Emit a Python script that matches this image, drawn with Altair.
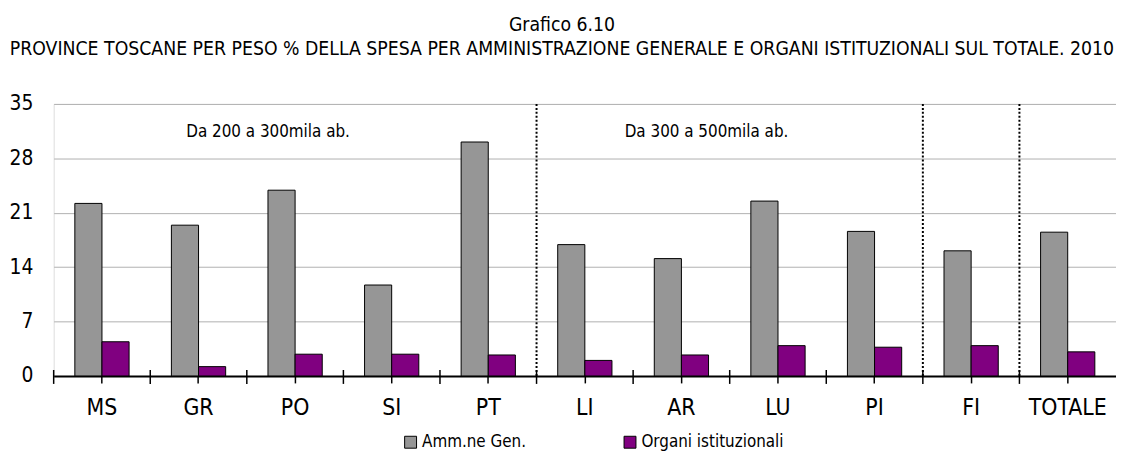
import altair as alt
import pandas as pd

categories = ["MS", "GR", "PO", "SI", "PT", "LI", "AR", "LU", "PI", "FI", "TOTALE"]
amm_gen = [22.2, 19.4, 23.9, 11.7, 30.1, 16.9, 15.1, 22.5, 18.6, 16.1, 18.5]
organi = [4.4, 1.2, 2.8, 2.8, 2.7, 2.0, 2.7, 3.9, 3.7, 3.9, 3.1]
series = ["Amm.ne Gen.", "Organi istituzionali"]
colors = ["#969696", "#800080"]
dividers = ["LI", "FI", "TOTALE"]
group_labels = ["Da 200 a 300mila ab.", "Da 300 a 500mila ab."]
group_anchor = ["PO", "AR"]
y_ticks = [0, 7, 14, 21, 28, 35]
title_lines = [
    "Grafico 6.10",
    "PROVINCE TOSCANE PER PESO % DELLA SPESA PER AMMINISTRAZIONE GENERALE E ORGANI ISTITUZIONALI SUL TOTALE. 2010",
]

rows = []
for c, a, o in zip(categories, amm_gen, organi):
    rows.append({"cat": c, "serie": series[0], "val": a})
    rows.append({"cat": c, "serie": series[1], "val": o})
df = pd.DataFrame(rows)

FONT = "Liberation Sans Narrow, Arial Narrow, DejaVu Sans Condensed, sans-serif"
W, H = 1070, 274

xscale = alt.Scale(domain=categories, paddingInner=0, paddingOuter=0)
x_axis = alt.Axis(
    title=None, labelAngle=0, labelFontSize=23, labelFont=FONT, labelColor="black",
    labelPadding=14, tickSize=7, tickColor="black", tickWidth=1.5,
    domainColor="black", domainWidth=2, grid=False,
)
y_axis = alt.Axis(
    title=None, values=y_ticks, grid=True, gridColor="#b0b0b0", gridWidth=1,
    domain=False, ticks=False, labelFontSize=21, labelFont=FONT, labelColor="black",
    labelPadding=21,
)
yscale = alt.Scale(domain=[0, 35], nice=False)

bars = alt.Chart(df).mark_bar(stroke="black", strokeWidth=1).encode(
    x=alt.X("cat:N", sort=categories, scale=xscale, axis=x_axis),
    y=alt.Y("val:Q", scale=yscale, axis=y_axis),
    xOffset=alt.XOffset("serie:N", sort=series,
                        scale=alt.Scale(paddingInner=0, paddingOuter=0.78)),
    color=alt.Color(
        "serie:N", sort=series, scale=alt.Scale(domain=series, range=colors),
        legend=alt.Legend(
            title=None, orient="none", legendX=351, legendY=332, direction="horizontal",
            symbolType="square", symbolSize=144, symbolStrokeColor="black",
            symbolStrokeWidth=1, labelFontSize=17, labelFont=FONT, labelColor="black",
            labelOffset=3, columnPadding=96, padding=0,
        ),
    ),
)

div_df = pd.DataFrame({"cat": dividers})
div_rules = alt.Chart(div_df).mark_rule(color="black", strokeWidth=2, strokeDash=[2, 2]).encode(
    x=alt.X("cat:N", sort=categories, bandPosition=0),
    y=alt.datum(35),
    y2=alt.datum(0),
)

bound_df = pd.DataFrame({"cat": categories})
bound_ticks = alt.Chart(bound_df).mark_rule(color="black", strokeWidth=1.5, yOffset=-6, y2Offset=8).encode(
    x=alt.X("cat:N", sort=categories, bandPosition=0),
    y=alt.datum(0),
    y2=alt.datum(0),
)

def group_text(label, cat, band):
    tdf = pd.DataFrame({"cat": [cat], "label": [label], "pos": [31.4]})
    return alt.Chart(tdf).mark_text(font=FONT, fontSize=17, color="black", align="center", baseline="middle").encode(
        x=alt.X("cat:N", sort=categories, bandPosition=band),
        y=alt.Y("pos:Q"),
        text="label:N",
    )

t1 = group_text(group_labels[0], group_anchor[0], 0.22)
t2 = group_text(group_labels[1], group_anchor[1], 0.76)

chart = alt.layer(bars, div_rules, bound_ticks, t1, t2).properties(
    width=W, height=H,
    title=alt.TitleParams(
        text=title_lines, font=FONT, fontSize=19.4, fontWeight="normal", color="black",
        anchor="middle", lineHeight=24, dx=-23, offset=34,
    ),
    autosize=alt.AutoSizeParams(type="none"),
    padding={"left": 46, "top": 95, "right": 0, "bottom": 80},
).configure_view(stroke=None).configure(background="white")

chart.save("out.html", embed_options={"renderer": "svg", "actions": False})
